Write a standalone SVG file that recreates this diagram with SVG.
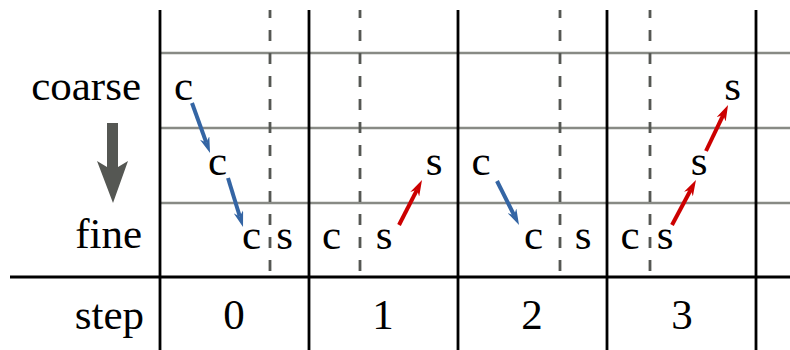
<svg xmlns="http://www.w3.org/2000/svg" width="790" height="350" viewBox="0 0 790 350">
  <style>
    text { font-family: "Liberation Serif", "Times New Roman", serif; font-size: 43px; fill: #000; }
    .lbl { text-anchor: end; }
    .m { text-anchor: middle; }
    .grid { stroke: #888a85; stroke-width: 2.5; fill: none; }
    .col { stroke: #000; stroke-width: 2.8; fill: none; }
    .dash { stroke: #555753; stroke-width: 2.8; stroke-dasharray: 11 12; stroke-dashoffset: 3; fill: none; }
    .blue { stroke: #3465a4; stroke-width: 4; fill: none; marker-end: url(#hb); }
    .red { stroke: #cc0000; stroke-width: 4; fill: none; marker-end: url(#hr); }
  </style>
  <defs>
    <marker id="hb" viewBox="0 0 16 10" refX="5" refY="5" markerWidth="16" markerHeight="10" markerUnits="userSpaceOnUse" orient="auto">
      <path d="M0,0 L16,5 L0,10 L5,5 z" fill="#3465a4"/>
    </marker>
    <marker id="hr" viewBox="0 0 16 10" refX="5" refY="5" markerWidth="16" markerHeight="10" markerUnits="userSpaceOnUse" orient="auto">
      <path d="M0,0 L16,5 L0,10 L5,5 z" fill="#cc0000"/>
    </marker>
  </defs>
  <rect width="790" height="350" fill="#fff"/>

  <g id="grid">
    <line class="grid" x1="160" y1="53" x2="790" y2="53"/>
    <line class="grid" x1="160" y1="128" x2="790" y2="128"/>
    <line class="grid" x1="160" y1="203" x2="790" y2="203"/>
    <line class="dash" x1="270" y1="10" x2="270" y2="277"/>
    <line class="dash" x1="360" y1="10" x2="360" y2="277"/>
    <line class="dash" x1="560" y1="10" x2="560" y2="277"/>
    <line class="dash" x1="650" y1="10" x2="650" y2="277"/>
    <line class="col" x1="160" y1="10" x2="160" y2="350"/>
    <line class="col" x1="309" y1="10" x2="309" y2="350"/>
    <line class="col" x1="458" y1="10" x2="458" y2="350"/>
    <line class="col" x1="607" y1="10" x2="607" y2="350"/>
    <line class="col" x1="756" y1="10" x2="756" y2="350"/>
    <line class="col" x1="10" y1="277" x2="790" y2="277"/>
  </g>

  <g id="labels">
    <text class="lbl" x="141" y="100">coarse</text>
    <text class="lbl" x="142" y="248">fine</text>
    <text class="lbl" x="144" y="329">step</text>
    <polygon points="107,123 118,123 118,167 128,161 113,203 97,161 107,167" fill="#555753"/>
    <text class="m" x="234" y="329">0</text>
    <text class="m" x="383" y="329">1</text>
    <text class="m" x="532" y="329">2</text>
    <text class="m" x="682" y="329">3</text>
  </g>

  <g id="n0c1"><text class="m" x="183.5" y="100">c</text></g>
  <g id="n0c2"><text class="m" x="217.5" y="175">c</text></g>
  <g id="n0c3"><text class="m" x="251.5" y="249">c</text></g>
  <g id="n0s3"><text class="m" x="284.5" y="249">s</text></g>
  <g id="n1c3"><text class="m" x="331.5" y="249">c</text></g>
  <g id="n1s3"><text class="m" x="384" y="249">s</text></g>
  <g id="n1s2"><text class="m" x="434" y="175">s</text></g>
  <g id="n2c2"><text class="m" x="481" y="175">c</text></g>
  <g id="n2c3"><text class="m" x="533.5" y="249">c</text></g>
  <g id="n2s3"><text class="m" x="583" y="249">s</text></g>
  <g id="n3c3"><text class="m" x="630" y="249">c</text></g>
  <g id="n3s3"><text class="m" x="665" y="249">s</text></g>
  <g id="n3s2"><text class="m" x="699" y="175">s</text></g>
  <g id="n3s1"><text class="m" x="732.5" y="100">s</text></g>

  <g id="connectors">
    <line class="blue" x1="192" y1="103" x2="206.3" y2="142.6"/>
    <line class="blue" x1="228" y1="178" x2="239.8" y2="216.5"/>
    <line class="blue" x1="497" y1="181" x2="514.1" y2="215.2"/>
    <line class="red" x1="399" y1="225" x2="417" y2="189.8"/>
    <line class="red" x1="672" y1="225" x2="690.8" y2="189.7"/>
    <line class="red" x1="706" y1="151" x2="723.3" y2="114.9"/>
  </g>
</svg>
